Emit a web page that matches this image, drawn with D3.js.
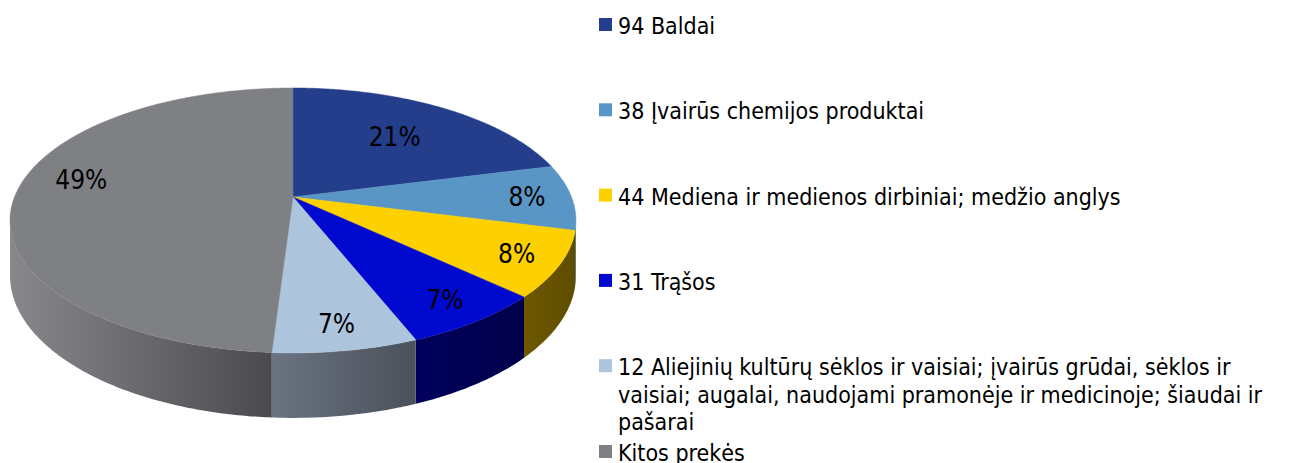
<!DOCTYPE html>
<html>
<head>
<meta charset="utf-8">
<script src="https://cdn.jsdelivr.net/npm/d3@7"></script>
<style>
  body { margin: 0; background: #fff; }
  svg { display: block; }
</style>
</head>
<body>
<div id="container"></div>
<script>
const width = 1292, height = 463;

const codes = ["94", "38", "44", "31", "12", "Kitos"];
const shares = [21, 8, 8, 7, 7, 49];
const legendLines = [
  ["94 Baldai"],
  ["38 Įvairūs chemijos produktai"],
  ["44 Mediena ir medienos dirbiniai; medžio anglys"],
  ["31 Trąšos"],
  ["12 Aliejinių kultūrų sėklos ir vaisiai; įvairūs grūdai, sėklos ir",
   "vaisiai; augalai, naudojami pramonėje ir medicinoje; šiaudai ir",
   "pašarai"],
  ["Kitos prekės"]
];
const topColors = ["#253e8c", "#5a96c5", "#fdd000", "#0009ce", "#adc4dd", "#7f8084"];
const sideColors = [["#1a2c66", "#15244f"], ["#3f6a8c", "#335873"], ["#6e5900", "#5f4c00"],
                    ["#00005c", "#00004a"], ["#6a7381", "#4a515b"], ["#88888c", "#4b4b4f"]];

const svg = d3.select("#container").append("svg")
  .attr("width", width).attr("height", height);

// --- tilted pie with a little perspective ---
const cx = 293, cy = 197, A = 278.5, B = 128.3, s = 0.177, D = 53.5;
function proj(th, r = 1, down = 0) {
  const u = r * Math.sin(th), v = -r * Math.cos(th);
  const w = 1 - s * v;
  return [cx + A * u / w, cy + B * v / w + down * D / w];
}

const arcs = d3.pie().sort(null).value(d => d)(shares);
const frontL = Math.acos(-s);            // right silhouette (from 12 o'clock, clockwise)
const frontR = 2 * Math.PI - frontL;     // left silhouette

function arcPts(a0, a1, r, down) {
  const n = Math.max(2, Math.ceil((a1 - a0) / 0.01));
  return d3.range(n + 1).map(i => proj(a0 + (a1 - a0) * i / n, r, down));
}

// side walls (front half only)
const defs = svg.append("defs");
arcs.forEach((a, i) => {
  const a0 = Math.max(a.startAngle, frontL), a1 = Math.min(a.endAngle, frontR);
  if (a1 <= a0) return;
  const top = arcPts(a0, a1, 1, 0);
  const bot = arcPts(a0, a1, 1, 1).reverse();
  const gid = "side" + i;
  const x0 = d3.min(top, p => p[0]), x1 = d3.max(top, p => p[0]);
  const gr = defs.append("linearGradient").attr("id", gid)
    .attr("gradientUnits", "userSpaceOnUse")
    .attr("x1", x0).attr("x2", x1).attr("y1", 0).attr("y2", 0);
  gr.append("stop").attr("offset", 0).attr("stop-color", sideColors[i][0]);
  gr.append("stop").attr("offset", 1).attr("stop-color", sideColors[i][1]);
  svg.append("path")
    .attr("d", d3.line()(top.concat(bot)) + "Z")
    .attr("fill", `url(#${gid})`);
});

// top faces
arcs.forEach((a, i) => {
  const pts = [proj(0, 0)].concat(arcPts(a.startAngle, a.endAngle, 1, 0));
  svg.append("path")
    .attr("d", d3.line()(pts) + "Z")
    .attr("fill", topColors[i])
    .attr("stroke", topColors[i]).attr("stroke-width", 0.5);
});

// --- percentage labels ---
const labelR = [0.65, 0.84, 0.85, 0.85, 0.85, 0.79];
const labelShift = [0, 0, 0, 0, 0, 0.14];
arcs.forEach((a, i) => {
  const mid = (a.startAngle + a.endAngle) / 2 + labelShift[i];
  const p = proj(mid, labelR[i]);
  svg.append("text")
    .attr("x", p[0]).attr("y", p[1] + 9)
    .attr("text-anchor", "middle")
    .attr("font-family", "DejaVu Sans Condensed, DejaVu Sans")
    .attr("font-size", 26)
    .attr("fill", "#000")
    .text(shares[i] + "%");
});

// --- legend ---
const legendY = d3.scaleLinear().domain([0, 1]).range([34, 119.3]);
const lg = svg.append("g").attr("font-family", "DejaVu Sans Condensed, DejaVu Sans")
  .attr("font-size", 23).attr("fill", "#000");
legendLines.forEach((lines, i) => {
  const y = i < 5 ? legendY(i) : 461;
  lg.append("rect").attr("x", 599).attr("y", y - 16).attr("width", 13).attr("height", 13)
    .attr("fill", topColors[i]);
  const t = lg.append("text").attr("x", 618).attr("y", y);
  lines.forEach((ln, j) => t.append("tspan").attr("x", 618).attr("dy", j ? 27.5 : 0).text(ln));
});
</script>
</body>
</html>
